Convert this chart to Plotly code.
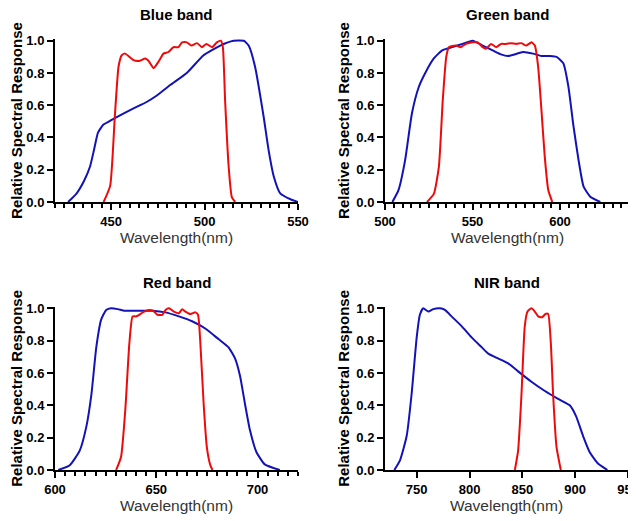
import plotly.graph_objects as go

# ---------------- data ----------------
blue_b_x = [427, 431.6, 435.5, 438.75, 441, 443, 445.9, 449, 452, 462, 469, 474.5, 481.6, 490.5, 499.5, 508.4, 515.5, 521, 523.6, 527, 531.6, 534.3, 537, 540.5, 546, 550]
blue_b_y = [0.0, 0.054, 0.13, 0.22, 0.33, 0.43, 0.48, 0.50, 0.52, 0.58, 0.62, 0.66, 0.725, 0.80, 0.91, 0.97, 1.0, 1.0, 0.97, 0.84, 0.53, 0.32, 0.16, 0.054, 0.017, 0.0]
blue_r_x = [446, 449.5, 452, 454, 455.7, 457.5, 462, 465.5, 468.2, 470, 472.7, 475.4, 478, 480.7, 483.4, 486, 488, 490.5, 493, 496, 498.6, 501, 504, 506.6, 508.75, 509.8, 511, 512.9, 514.6, 516.4]
blue_r_y = [0.0, 0.10, 0.53, 0.84, 0.91, 0.92, 0.88, 0.876, 0.89, 0.876, 0.83, 0.87, 0.92, 0.93, 0.96, 0.96, 0.99, 0.99, 0.97, 0.985, 0.96, 0.98, 0.96, 0.99, 1.0, 0.96, 0.63, 0.22, 0.03, 0.0]

green_b_x = [504.2, 507.7, 511.5, 515.4, 519.2, 523, 527.9, 532.7, 538.5, 544.2, 550, 555.8, 561.5, 566.3, 570.2, 574, 578.8, 584.6, 589.4, 594.2, 598, 601.9, 604.8, 607.7, 610.6, 613.5, 617.3, 623]
green_b_y = [0.0, 0.074, 0.26, 0.55, 0.71, 0.80, 0.89, 0.94, 0.96, 0.98, 1.0, 0.97, 0.94, 0.915, 0.905, 0.915, 0.93, 0.92, 0.905, 0.905, 0.90, 0.86, 0.715, 0.47, 0.26, 0.095, 0.033, 0.0]
green_r_x = [524, 527.9, 530.8, 533, 535, 536.5, 540.4, 543.3, 546.2, 550, 553, 555.8, 557.7, 560.6, 563.5, 566.3, 569.2, 572, 575, 577.9, 580.8, 583.7, 585.6, 587.5, 589.4, 591.3, 593.3, 595.6]
green_r_y = [0.0, 0.05, 0.22, 0.63, 0.90, 0.96, 0.97, 0.96, 0.98, 0.99, 0.99, 0.96, 0.95, 0.98, 0.96, 0.98, 0.98, 0.985, 0.98, 0.985, 0.97, 0.99, 0.97, 0.84, 0.57, 0.28, 0.074, 0.0]

red_b_x = [601.6, 607.3, 612.2, 615.5, 618, 620.4, 622.8, 625.3, 627.7, 631, 634.3, 641.6, 648, 654.6, 661.2, 667.7, 674.2, 680.7, 685.6, 688.9, 691.4, 693.8, 696.2, 699.5, 703.6, 711]
red_b_y = [0.0, 0.03, 0.12, 0.27, 0.47, 0.76, 0.93, 0.99, 1.0, 0.995, 0.985, 0.985, 0.985, 0.975, 0.95, 0.92, 0.875, 0.81, 0.76, 0.69, 0.58, 0.41, 0.25, 0.11, 0.035, 0.0]
red_r_x = [630.2, 632.6, 634.7, 636.7, 638.3, 639.9, 641.6, 644, 646.5, 648.5, 650.6, 653, 654.6, 656.3, 658.7, 661.2, 662.8, 664.4, 666.9, 669.3, 670.6, 671.8, 673.4, 675, 676.7, 677.8]
red_r_y = [0.0, 0.08, 0.37, 0.78, 0.95, 0.95, 0.96, 0.98, 0.99, 0.985, 0.96, 0.96, 0.99, 1.0, 0.98, 0.97, 0.995, 0.98, 0.965, 0.975, 0.96, 0.78, 0.41, 0.14, 0.03, 0.0]

nir_b_x = [728.8, 734.2, 740.5, 745.2, 750, 753, 756.2, 761, 765.7, 772, 776.7, 783, 792.5, 802, 811.4, 817.7, 827, 836.6, 846, 858.6, 871, 883.8, 894.9, 901, 907.5, 913.8, 921.6, 930.5]
nir_b_y = [0.0, 0.06, 0.21, 0.47, 0.82, 0.96, 1.0, 0.98, 0.995, 1.0, 0.99, 0.95, 0.89, 0.82, 0.76, 0.72, 0.69, 0.66, 0.61, 0.546, 0.49, 0.44, 0.40, 0.33, 0.21, 0.11, 0.04, 0.0]
nir_r_x = [842.9, 846, 849.2, 852.3, 854.9, 858.6, 861.8, 865, 868.7, 871.9, 874.4, 877, 879.1, 882.3, 886.4]
nir_r_y = [0.0, 0.12, 0.47, 0.89, 0.98, 1.0, 0.98, 0.95, 0.945, 0.965, 0.965, 0.78, 0.47, 0.145, 0.0]

titles = ["Blue band", "Green band", "Red band", "NIR band"]
x_ranges = [[420, 550], [500, 640], [600, 720], [720, 950]]
minor_steps = [5, 5, 5, None]
y_ticks = [0.0, 0.2, 0.4, 0.6, 0.8, 1.0]
y_ticklabels = ["0.0", "0.2", "0.4", "0.6", "0.8", "1.0"]

panels = [
    (blue_b_x, blue_b_y, blue_r_x, blue_r_y),
    (green_b_x, green_b_y, green_r_x, green_r_y),
    (red_b_x, red_b_y, red_r_x, red_r_y),
    (nir_b_x, nir_b_y, nir_r_x, nir_r_y),
]

# ---------------- layout geometry ----------------
# the page body has an 8px margin, so the figure is drawn 8px in from the window corner
OFF = 8
W, H = 636 - OFF, 521 - OFF


def px_x(a, b):
    return [(a - OFF) / W, min(1.0, (b - OFF) / W)]


def px_y(bottom, top):
    return [1 - (bottom - OFF) / H, 1 - (top - OFF) / H]


x_doms = [px_x(55, 298), px_x(385, 630), px_x(55, 298), px_x(385, 628)]
top_row = px_y(202, 39.1)
bot_row = px_y(470, 306.7)
y_doms = [top_row, top_row, bot_row, bot_row]

BLUE = "#1212b8"
RED = "#ee0a0a"

fig = go.Figure()
layout = dict(
    width=W, height=H,
    margin=dict(l=0, r=0, t=0, b=0),
    paper_bgcolor="white", plot_bgcolor="white",
    showlegend=False,
    font=dict(family="Arial, Liberation Sans, sans-serif", color="black"),
    annotations=[],
)

for i, (bx, by, rx, ry) in enumerate(panels):
    k = "" if i == 0 else str(i + 1)
    fig.add_trace(go.Scatter(x=bx, y=by, mode="lines", line=dict(color=BLUE, width=2, shape="spline", smoothing=0.5),
                             xaxis="x" + k, yaxis="y" + k))
    fig.add_trace(go.Scatter(x=rx, y=ry, mode="lines", line=dict(color=RED, width=2, shape="spline", smoothing=0.5),
                             xaxis="x" + k, yaxis="y" + k))
    xa = dict(
        domain=x_doms[i], range=x_ranges[i], anchor="y" + k, automargin=False,
        showline=True, linecolor="black", linewidth=2, showgrid=False, zeroline=False,
        ticks="outside", ticklen=6, tickwidth=2, tickcolor="black", dtick=50, tick0=0,
        ticklabeloverflow="allow",
        tickfont=dict(size=13, weight="bold", color="black"),
        title=dict(text="Wavelength(nm)", font=dict(size=15.5, color="#333333"), standoff=5),
    )
    if minor_steps[i]:
        xa["minor"] = dict(dtick=minor_steps[i], ticks="outside", ticklen=4, tickwidth=1.5, tickcolor="black", showgrid=False)
    ya = dict(
        domain=y_doms[i], range=[0, 1.01], anchor="x" + k, automargin=False,
        showline=True, linecolor="black", linewidth=2, showgrid=False, zeroline=False,
        ticks="outside", ticklen=6, tickwidth=2, tickcolor="black",
        tickvals=y_ticks, ticktext=y_ticklabels,
        tickfont=dict(size=13, weight="bold", color="black"),
        title=dict(text="Relative Spectral Response", font=dict(size=15, weight="bold", color="black"), standoff=3),
    )
    layout["xaxis" + k] = xa
    layout["yaxis" + k] = ya
    layout["annotations"].append(dict(
        text=titles[i], xref="paper", yref="paper",
        x=(x_doms[i][0] + x_doms[i][1]) / 2, y=y_doms[i][1] + 24.5 / H,
        xanchor="center", yanchor="middle", showarrow=False,
        font=dict(size=15, weight="bold", color="black"),
    ))

fig.update_layout(**layout)
fig.write_html("out.html")
